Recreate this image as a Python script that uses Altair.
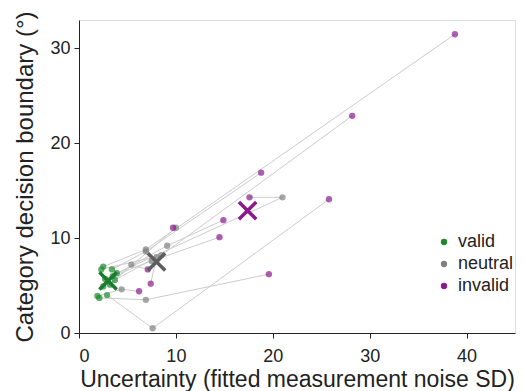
import altair as alt
import pandas as pd

subjects = list(range(1, 13))
valid_x = [2.5, 2.3, 3.4, 3.9, 3.5, 2.7, 3.7, 3.2, 2.5, 1.9, 2.1, 2.9]
valid_y = [7.0, 6.7, 6.7, 6.3, 6.0, 5.7, 5.6, 5.1, 4.9, 3.9, 3.7, 4.0]
neutral_x = [6.9, 8.5, 6.9, 21.0, 9.1, 7.5, 10.0, 5.4, 8.0, 4.4, 6.9, 7.6]
neutral_y = [8.8, 8.2, 8.6, 14.3, 9.2, 7.6, 11.1, 7.2, 8.0, 4.6, 3.5, 0.5]
invalid_x = [38.8, 28.2, 18.8, 17.6, 14.9, 14.5, 9.7, 7.1, 7.4, 6.2, 19.6, 25.8]
invalid_y = [31.5, 22.9, 16.9, 14.3, 11.9, 10.1, 11.1, 6.7, 5.2, 4.4, 6.2, 14.1]

conditions = ["valid", "neutral", "invalid"]
legend_colors = ["#1a8a2a", "#808080", "#8b1a8b"]
mean_x = [3.0, 8.0, 17.4]
mean_y = [5.5, 7.5, 12.9]
mean_colors = ["#1a7a2e", "#5e5e5e", "#8b1a8b"]

rows = []
for cond, xs, ys, k in [("valid", valid_x, valid_y, 0),
                        ("neutral", neutral_x, neutral_y, 1),
                        ("invalid", invalid_x, invalid_y, 2)]:
    for s, xv, yv in zip(subjects, xs, ys):
        rows.append({"subject": s, "condition": cond, "order": k, "x": xv, "y": yv})
df = pd.DataFrame(rows)

means = pd.DataFrame({"condition": conditions, "x": mean_x, "y": mean_y, "col": mean_colors})

FONT = "Liberation Sans"
xs = alt.Scale(domain=[0, 45], nice=False)
ys = alt.Scale(domain=[0, 33], nice=False)

xax = alt.Axis(values=[0, 10, 20, 30, 40], title="Uncertainty (fitted measurement noise SD)",
               labelFontSize=18, titleFontSize=23, labelPadding=9, tickSize=5,
               titleBaseline="alphabetic", titleY=53, grid=False,
               domainColor="#222", tickColor="#222", labelColor="#222", titleColor="#222",
               titleFontWeight="normal", labelFont=FONT, titleFont=FONT)
yax = alt.Axis(values=[0, 10, 20, 30], title="Category decision boundary (°)",
               labelFontSize=18, titleFontSize=24, labelPadding=4, tickSize=5,
               titleBaseline="alphabetic", titleX=-47, grid=False,
               domainColor="#222", tickColor="#222", labelColor="#222", titleColor="#222",
               titleFontWeight="normal", labelFont=FONT, titleFont=FONT)

base = alt.Chart(df)

lines = base.mark_line(color="#cccccc", strokeWidth=1).encode(
    x=alt.X("x:Q", scale=xs, axis=xax),
    y=alt.Y("y:Q", scale=ys, axis=yax),
    detail="subject:N",
    order="order:Q",
)

points = base.mark_circle(size=40, opacity=0.7).encode(
    x=alt.X("x:Q", scale=xs),
    y=alt.Y("y:Q", scale=ys),
    color=alt.Color("condition:N",
                    scale=alt.Scale(domain=conditions, range=legend_colors),
                    legend=alt.Legend(title=None, orient="none", legendX=356, legendY=213,
                                      labelFontSize=18, labelFont=FONT, labelColor="#222",
                                      symbolSize=40, symbolType="circle", symbolOpacity=1,
                                      symbolStrokeWidth=0, rowPadding=4, labelOffset=5,
                                      padding=0, labelLimit=300)),
    order="order:Q",
)

xmark = "M-1,-1L1,1M-1,1L1,-1"
crosses = alt.Chart(means).mark_point(shape=xmark, size=300, strokeWidth=3.5,
                                      filled=False, opacity=1).encode(
    x=alt.X("x:Q", scale=xs),
    y=alt.Y("y:Q", scale=ys),
    stroke=alt.Stroke("col:N", scale=None),
)

chart = alt.layer(lines, points, crosses).properties(
    width=436, height=313,
    autosize=alt.AutoSizeParams(type="none"),
    padding={"left": 71, "top": 12, "right": 1, "bottom": 62},
).configure_view(stroke=None).configure(font=FONT).configure_legend(labelFont=FONT)

chart.save("out.html", embed_options={"renderer": "svg", "actions": False})
